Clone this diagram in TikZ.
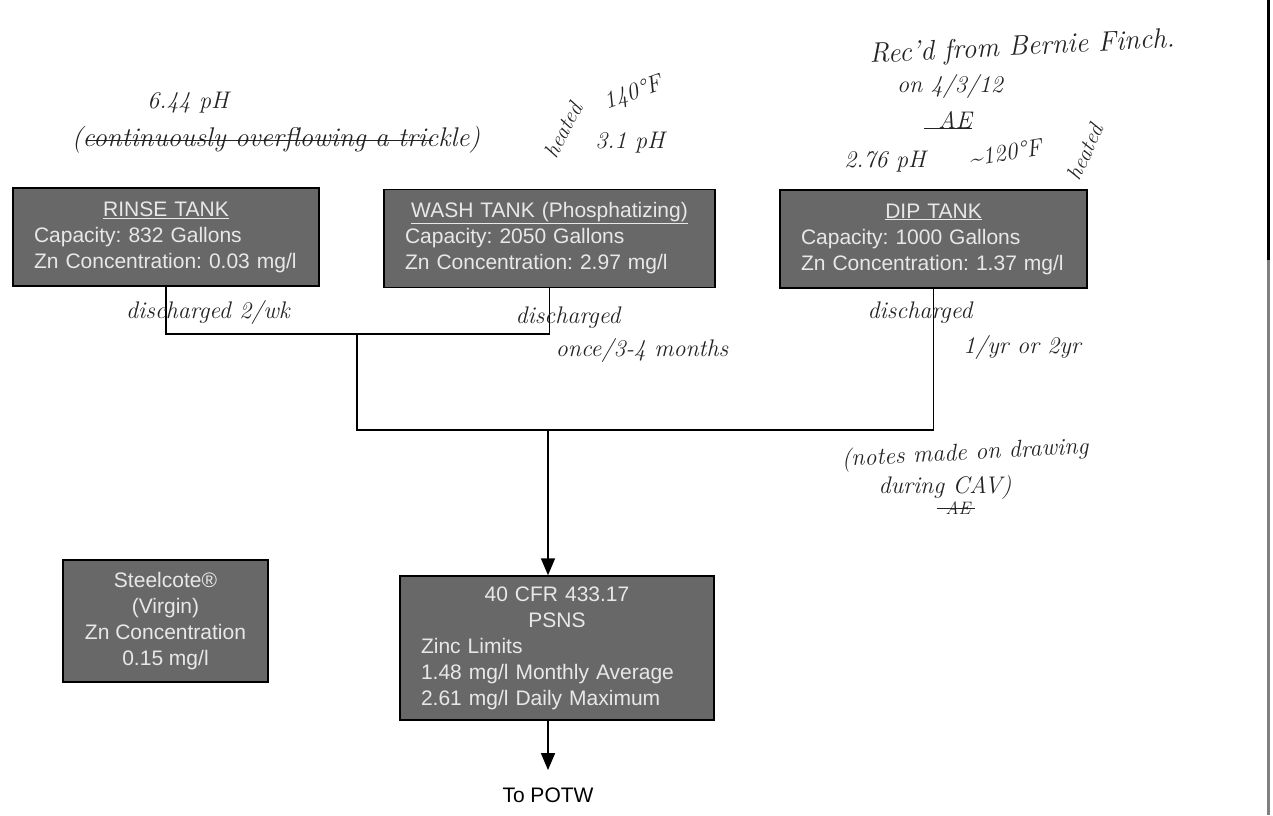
\documentclass[tikz,border=0pt]{standalone}
\usepackage{fontspec}
\newfontfamily\boxfont{Liberation Sans}
\usetikzlibrary{arrows.meta,positioning}
\definecolor{boxgray}{RGB}{104,104,104}
\definecolor{boxtext}{RGB}{232,232,232}
\definecolor{ink}{RGB}{35,35,35}
\newcommand{\boxhead}[1]{\makebox[\linewidth]{#1}}
\frenchspacing

\begin{document}
\begin{tikzpicture}[x=1pt, y=-1pt,
  tank/.style={draw, line width=1.5pt, fill=boxgray, text=boxtext, font=\boxfont\fontsize{21}{26}\selectfont, align=left, inner xsep=21pt, inner ysep=0pt, minimum height=98pt},
  pipe/.style={line width=1.6pt},
  flow/.style={line width=1.6pt, -{Triangle[width=14pt,length=17pt]}},
  potw/.style={font=\boxfont\fontsize{21}{25}\selectfont},
  hand/.style={font=\fontsize{24}{26}\selectfont\itshape, text=ink, inner sep=0pt},
  strike/.style={line width=1pt, draw=ink}
]
\useasboundingbox (0,0) rectangle (1273,815);

\node[tank, text width=264pt, inner xsep=21pt] (rinse) at (166,237) {\boxhead{\underline{RINSE TANK}}\\Capacity: 832 Gallons\\Zn Concentration: 0.03 mg/l};
\node[tank, text width=289pt] (wash) at (549.5,238.5) {\boxhead{\underline{WASH TANK (Phosphatizing)}}\\Capacity: 2050 Gallons\\Zn Concentration: 2.97 mg/l};
\node[tank, text width=265pt] (dip) at (933.5,239) {\boxhead{\underline{DIP TANK}}\\Capacity: 1000 Gallons\\Zn Concentration: 1.37 mg/l};

\node[tank, align=center, minimum width=205pt, minimum height=122pt, inner xsep=4pt] (steel) at (165.5,621) {Steelcote®\\(Virgin)\\Zn Concentration\\0.15 mg/l};
\node[tank, text width=272pt, minimum height=144pt] (psns) at (557,648) {\boxhead{40 CFR 433.17}\\\boxhead{PSNS}\\Zinc Limits\\1.48 mg/l Monthly Average\\2.61 mg/l Daily Maximum};
\node[potw] (potw) at (548,795) {To POTW};

\coordinate (split) at (357,333);
\coordinate (merge) at (548,430);
\draw[pipe] (rinse.south) -- ++(0,47) -| (wash.south);
\draw[pipe] (split) |- (merge) -| (dip.south);
\draw[flow] (merge) -- (merge |- psns.north);
\draw[flow, shorten >=14pt] (merge |- psns.south) -- (potw.north);

\node[hand] (ph1) at (188,103) {6.44 pH};
\node[hand, font=\fontsize{27}{28}\selectfont\itshape] (trickle) at (276,140) {(continuously overflowing a trickle)};
\draw[strike] ([xshift=14pt]trickle.west) -- ([xshift=-47pt]trickle.east);
\node[hand, rotate=62, font=\fontsize{22}{24}\selectfont\itshape] (heat1) at (563,130) {heated};
\node[hand, rotate=20] (temp1) at (633,94) {140\textdegree F};
\node[hand] (ph2) at (630,143) {3.1 pH};

\node[hand, rotate=3, font=\fontsize{28}{30}\selectfont\itshape] (recd) at (1022,48) {Rec'd from Bernie Finch.};
\node[hand] (date) at (950,86) {on 4/3/12};
\node[hand] (init1) at (955,120) {AE};
\draw[strike] ([xshift=-14pt]init1.south west) -- (init1.south east);
\node[hand] (ph3) at (885,162) {2.76 pH};
\node[hand, rotate=10] (temp2) at (1005,153) {\textasciitilde 120\textdegree F};
\node[hand, rotate=65, font=\fontsize{22}{24}\selectfont\itshape] (heat2) at (1085,152) {heated};

\node[hand] (dis1) at (208,312) {discharged 2/wk};
\node[hand] (dis2) at (568,318) {discharged};
\node[hand] (freq2) at (642,350) {once/3-4 months};
\node[hand] (dis3) at (920,313) {discharged};
\node[hand] (freq3) at (1022,347) {1/yr or 2yr};

\node[hand, rotate=3] (cav) at (965,454) {(notes made on drawing};
\node[hand] (cav2) at (945,487) {during CAV)};
\node[hand, font=\fontsize{18}{20}\selectfont\itshape] (init2) at (958,508) {AE};
\draw[strike] ([xshift=-8pt]init2.west) -- ([xshift=4pt]init2.east);

\draw[line width=3pt] (1268,0) -- (1268,260);
\draw[line width=3pt, gray] (1268,260) -- (1268,815);
\end{tikzpicture}
\end{document}
